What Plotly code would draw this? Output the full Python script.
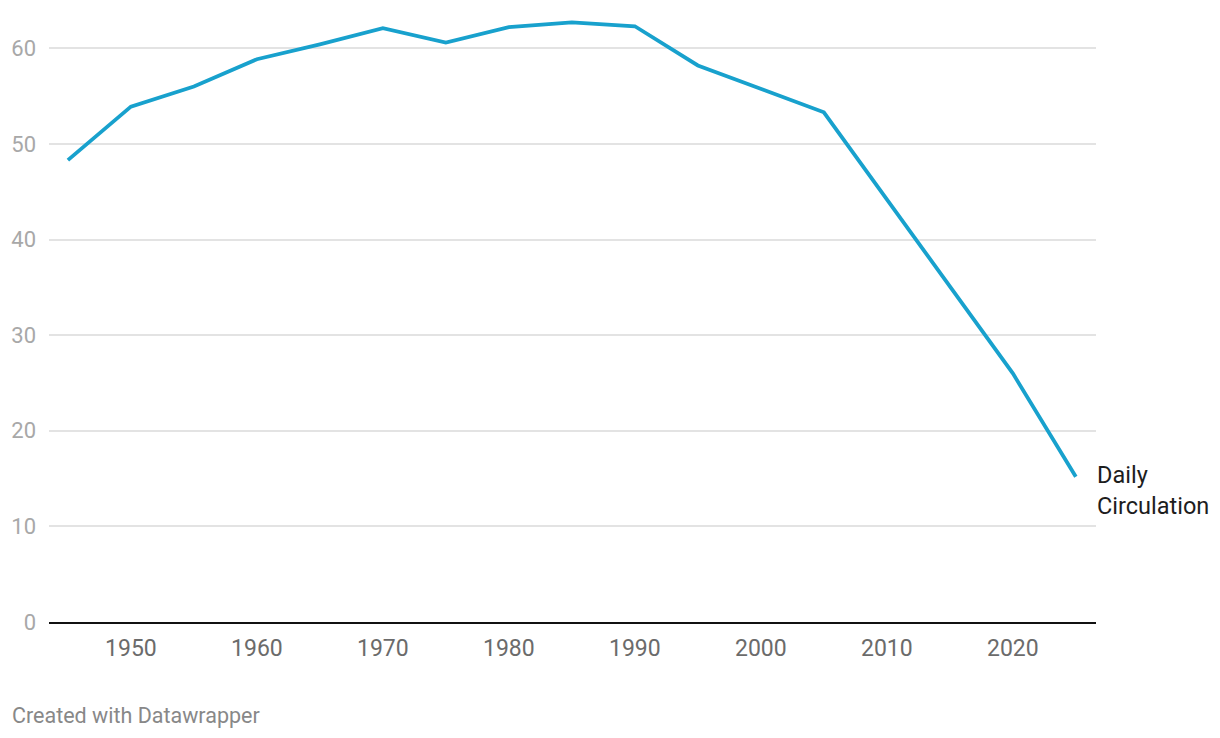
import plotly.graph_objects as go

years = [1945, 1950, 1955, 1960, 1965, 1970, 1975, 1980, 1985, 1990,
         1995, 2000, 2005, 2010, 2015, 2020, 2025]
circulation = [48.3, 53.9, 56.0, 58.85, 60.4, 62.1, 60.6, 62.2, 62.7, 62.3,
               58.2, 55.8, 53.3, 44.2, 35.1, 26.0, 15.2]
series_label = "Daily<br>Circulation"
x_ticks = [1950, 1960, 1970, 1980, 1990, 2000, 2010, 2020]
y_ticks = [0, 10, 20, 30, 40, 50, 60]

FONT = "Roboto"
fig = go.Figure()
fig.add_trace(go.Scatter(
    x=years, y=circulation, mode="lines",
    line=dict(color="#18a1cd", width=3.8),
    hoverinfo="skip", showlegend=False,
))

fig.add_annotation(
    x=years[-1], y=circulation[-1], xref="x", yref="y",
    text=series_label, showarrow=False, xanchor="left", yanchor="middle",
    xshift=19, yshift=-14, align="left",
    font=dict(family=FONT, size=23.5, color="#1d1d1d"),
)
fig.add_annotation(
    x=-0.0372, y=-0.152, xref="paper", yref="paper",
    text="Created with Datawrapper", showarrow=False,
    xanchor="left", yanchor="middle",
    font=dict(family=FONT, size=21.5, color="#888888"),
)

fig.update_layout(
    width=1220, height=738,
    margin=dict(l=41, r=132, t=2, b=124),
    plot_bgcolor="white", paper_bgcolor="white",
    font=dict(family=FONT),
)
fig.update_xaxes(
    range=[1943.5, 2026.6], tickvals=x_ticks, showgrid=False,
    zeroline=False, showline=True, linecolor="#111111", linewidth=2,
    ticks="", ticklabelstandoff=4,
    tickfont=dict(family=FONT, size=23, color="#6b6b6b"),
)
fig.update_yaxes(
    range=[0, 64], tickvals=y_ticks, showgrid=True, gridcolor="#e3e3e3",
    gridwidth=1.5, zeroline=False, ticks="", ticklabelstandoff=12,
    tickfont=dict(family=FONT, size=22, color="#a8a8a8"),
)

fig.write_html("out.html")
